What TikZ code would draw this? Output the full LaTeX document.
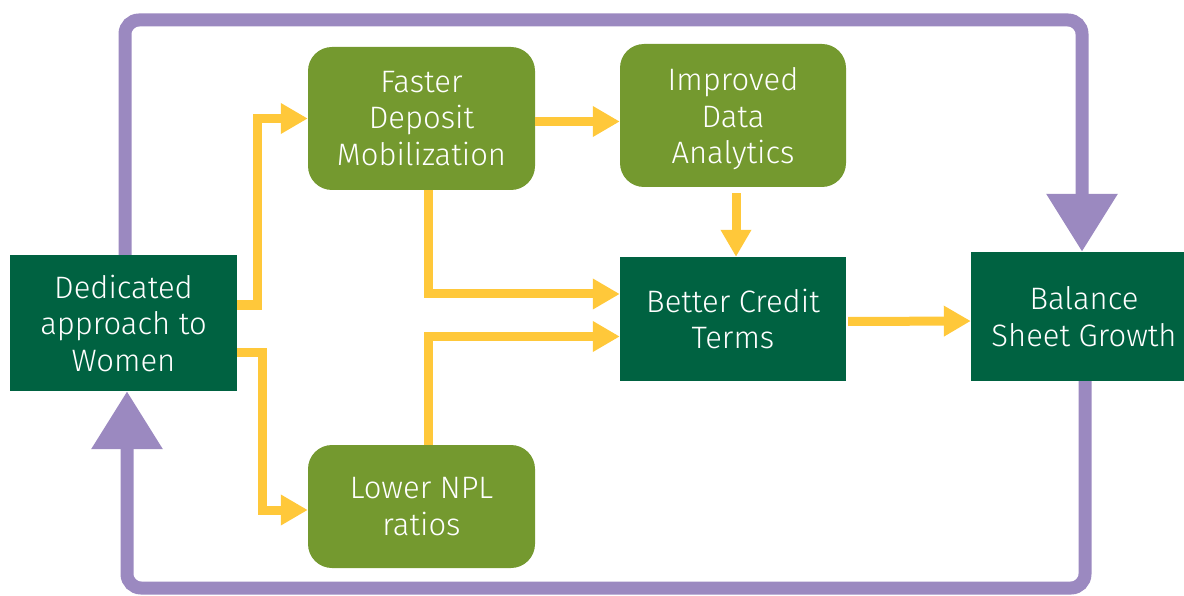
\documentclass[tikz,border=0pt]{standalone}
\usepackage{fontspec}
\setmainfont{Fira Sans}[UprightFont=* Light]
\usetikzlibrary{arrows.meta,calc}
\definecolor{dkgreen}{RGB}{0,98,65}
\definecolor{ltgreen}{RGB}{116,153,47}
\definecolor{purp}{RGB}{155,137,192}
\definecolor{yel}{RGB}{255,200,58}
\begin{document}
\begin{tikzpicture}[x=1pt,y=-1pt,
  font=\fontsize{31}{36.5}\selectfont,
  box/.style={text=white, align=center, inner sep=0pt},
  dbox/.style={box, fill=dkgreen},
  gbox/.style={box, fill=ltgreen, rounded corners=24pt},
  yarrow/.style={draw=yel, line width=9pt, -{Triangle[length=27pt,width=29pt]}},
  parrow/.style={draw=purp, line width=13pt, rounded corners=14pt, -{Triangle[length=58pt,width=68pt]}}]
\useasboundingbox (0,0) rectangle (1184,596);
\node[dbox, minimum width=227pt, minimum height=136pt] (ded) at (123.5,323) {Dedicated\\approach to\\Women};
\node[gbox, minimum width=227pt, minimum height=143pt] (fast) at (421.5,118.5) {Faster\\Deposit\\Mobilization};
\node[gbox, minimum width=226pt, minimum height=143pt, text depth=-4pt] (imp) at (733,115.5) {Improved\\Data\\Analytics};
\node[dbox, minimum width=226pt, minimum height=124pt] (bet) at (733,319) {Better Credit\\Terms};
\node[dbox, minimum width=226pt, minimum height=129pt] (bal) at (1084,316.5) {Balance\\Sheet Growth};
\node[gbox, minimum width=227pt, minimum height=123pt] (low) at (421.5,506.5) {Lower NPL\\ratios};
% purple loop
\coordinate (tl) at (125,20);
\coordinate (tr) at (1082,20);
\coordinate (br) at (1085,588);
\coordinate (bl) at (127,588);
\draw[parrow] ($(ded.north)+(1.5,0)$) -- (tl) -- (tr) -- (bal.north -| tr);
\draw[parrow] (bal.south -| br) -- (br) -- (bl) -- (ded.south -| bl);
% yellow arrows
\draw[yarrow] ($(ded.east)+(0,-18)$) -- ++(20,0) |- (fast.west);
\draw[yarrow] ($(ded.east)+(0,29)$) -- ++(25,0) |- ($(low.west)+(0,3.5)$);
\draw[yarrow] ($(fast.east)+(0,3)$) -- ($(imp.west)+(0,6)$);
\draw[yarrow] ($(fast.south)+(6.5,0)$) |- ($(bet.west)+(0,-25)$);
\draw[yarrow] ($(low.north)+(6.5,0)$) |- ($(bet.west)+(0,17.5)$);
\draw[yarrow] ($(imp.south)+(3,6)$) -- ($(bet.north)+(3,0)$);
\draw[yarrow] ($(bet.east)+(2,2.5)$) -- ($(bal.west)+(0,4.5)$);
\end{tikzpicture}
\end{document}
